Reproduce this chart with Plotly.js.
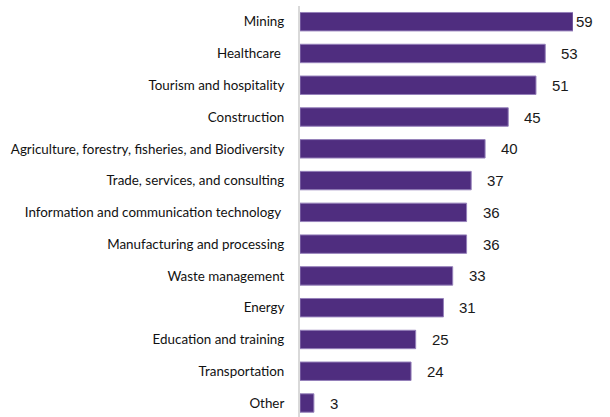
<!DOCTYPE html>
<html>
<head>
<meta charset="utf-8">
<script src="https://cdn.plot.ly/plotly-3.0.1.min.js"></script>
<style>html,body{margin:0;padding:0;background:#fff;}#chart{width:610px;height:417px;}</style>
</head>
<body>
<div id="chart"></div>
<script>
const categories = [
  "Mining",
  "Healthcare\u00a0",
  "Tourism and hospitality",
  "Construction",
  "Agriculture, forestry, fisheries, and Biodiversity",
  "Trade, services, and consulting",
  "Information and communication technology\u00a0",
  "Manufacturing and processing",
  "Waste management",
  "Energy",
  "Education and training",
  "Transportation",
  "Other"
];
const values = [59, 53, 51, 45, 40, 37, 36, 36, 33, 31, 25, 24, 3];

const maxVal = Math.max(...values);
const annotations = categories.map((c, i) => ({
  x: values[i], y: c, xref: 'x', yref: 'y',
  text: String(values[i]), showarrow: false,
  xanchor: 'left', xshift: values[i] === maxVal ? 1 : 14,
  font: {family: 'Liberation Sans, Arial, sans-serif', size: 15, color: '#1a1a1a'}
}));

const trace = {
  type: 'bar', orientation: 'h',
  x: values, y: categories,
  marker: {color: '#4F2D7F', line: {color: '#9580BA', width: 1}},
  width: 0.58,
  hoverinfo: 'none'
};

const layout = {
  width: 610, height: 417,
  margin: {l: 300, r: 37, t: 6, b: 0},
  paper_bgcolor: '#fff', plot_bgcolor: '#fff',
  showlegend: false,
  xaxis: {range: [0, maxVal], showgrid: false, zeroline: false, showticklabels: false, ticks: '', showline: false, fixedrange: true},
  yaxis: {
    type: 'category', range: [12.44, -0.494],
    showgrid: false, zeroline: false, ticks: '',
    showline: true, linecolor: '#d9d9d9', linewidth: 2,
    ticklabelstandoff: 11,
    tickfont: {family: 'Lato, Noto Sans, sans-serif', size: 13.4, color: '#111'}
  },
  annotations: annotations
};

Plotly.newPlot('chart', [trace], layout, {displayModeBar: false, staticPlot: true});
</script>
</body>
</html>
